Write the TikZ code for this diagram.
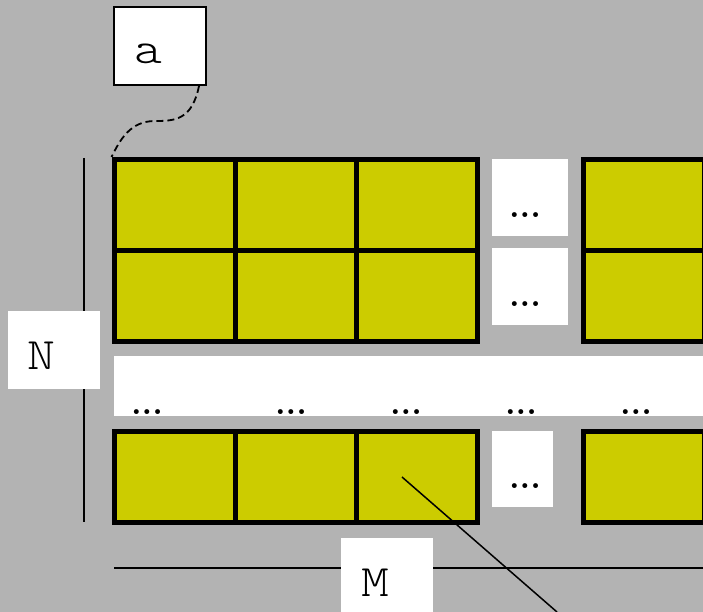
\documentclass[tikz,border=0pt]{standalone}
\usepackage{fontspec}
\setmonofont[FakeStretch=1.18]{Latin Modern Mono Light}
\usetikzlibrary{positioning}
\definecolor{cellyellow}{RGB}{204,204,0}
\definecolor{backgray}{RGB}{179,179,179}
\tikzstyle{cell}=[draw=black,fill=cellyellow,line width=5pt,minimum width=121pt,minimum height=91pt,inner sep=0pt]
\tikzstyle{gap}=[fill=white,inner sep=0pt]
\tikzstyle{tag}=[fill=white,inner sep=0pt,minimum width=92pt,minimum height=78pt]
\tikzstyle{letter}=[inner sep=0pt,font=\ttfamily\fontsize{45}{45}\selectfont]
\tikzstyle{dotstext}=[inner sep=0pt,font=\rmfamily\bfseries\fontsize{34}{34}\selectfont]
\tikzstyle{edge} = [draw,line width=1.5pt,-]

\begin{document}
\begin{tikzpicture}[x=1pt,y=-1pt]
    % Background and page size
    \fill[backgray] (0,0) rectangle (703,612);
    \useasboundingbox (0,0) rectangle (703,612);
    \clip (0,0) rectangle (703,612);

    % Guide lines for N and M
    \coordinate (n_top) at (84,158);
    \coordinate (n_bot) at (84,522);
    \coordinate (m_left) at (114,568);
    \coordinate (m_right) at (703,568);
    \path[edge] (n_top) -- (n_bot);
    \path[edge] (m_left) -- (m_right);

    % The yellow cells
    \foreach \col/\x in {1/174.5, 2/295.5, 3/416.5, 4/643.5}
        \foreach \row/\y in {1/205, 2/296, 3/477}
            \node[cell] (c\row\col) at (\x,\y) {};

    % White gaps with dots
    \node[gap,minimum width=76pt,minimum height=77pt] (g1) at (530,197.5) {};
    \node[gap,minimum width=76pt,minimum height=77pt] (g2) at (530,286.5) {};
    \node[gap,minimum width=61pt,minimum height=76pt] (g3) at (522.5,469) {};
    \node[gap,minimum width=596pt,minimum height=60pt] (band) at (412,386) {};
    \foreach \pos/\name in {{(525,215)/d1}, {(525,304)/d2}, {(525,486)/d3}, {(147,412)/b1}, {(291,412)/b2}, {(406,412)/b3}, {(521,412)/b4}, {(636,412)/b5}}
        \node[dotstext] (\name) at \pos {...};

    % Labels
    \node[tag,draw=black,line width=1.3pt] (a) at (160,46) {};
    \node[letter] (a_text) at (148,54) {a};
    \node[tag] (N) at (54,349.5) {};
    \node[letter] (N_text) at (41,356) {N};
    \node[tag] (M) at (387,577) {};
    \node[letter] (M_text) at (375,583) {M};

    % Pointers
    \draw[line width=1.8pt,dash pattern=on 7pt off 4pt] (199,86) .. controls (192,120) and (175,121) .. (155,121) .. controls (130,121) and (120,140) .. (c11.north west);
    \coordinate (p_start) at (402,477);
    \coordinate (p_end) at (557,612);
    \path[edge] (p_start) -- (p_end);
\end{tikzpicture}
\end{document}
